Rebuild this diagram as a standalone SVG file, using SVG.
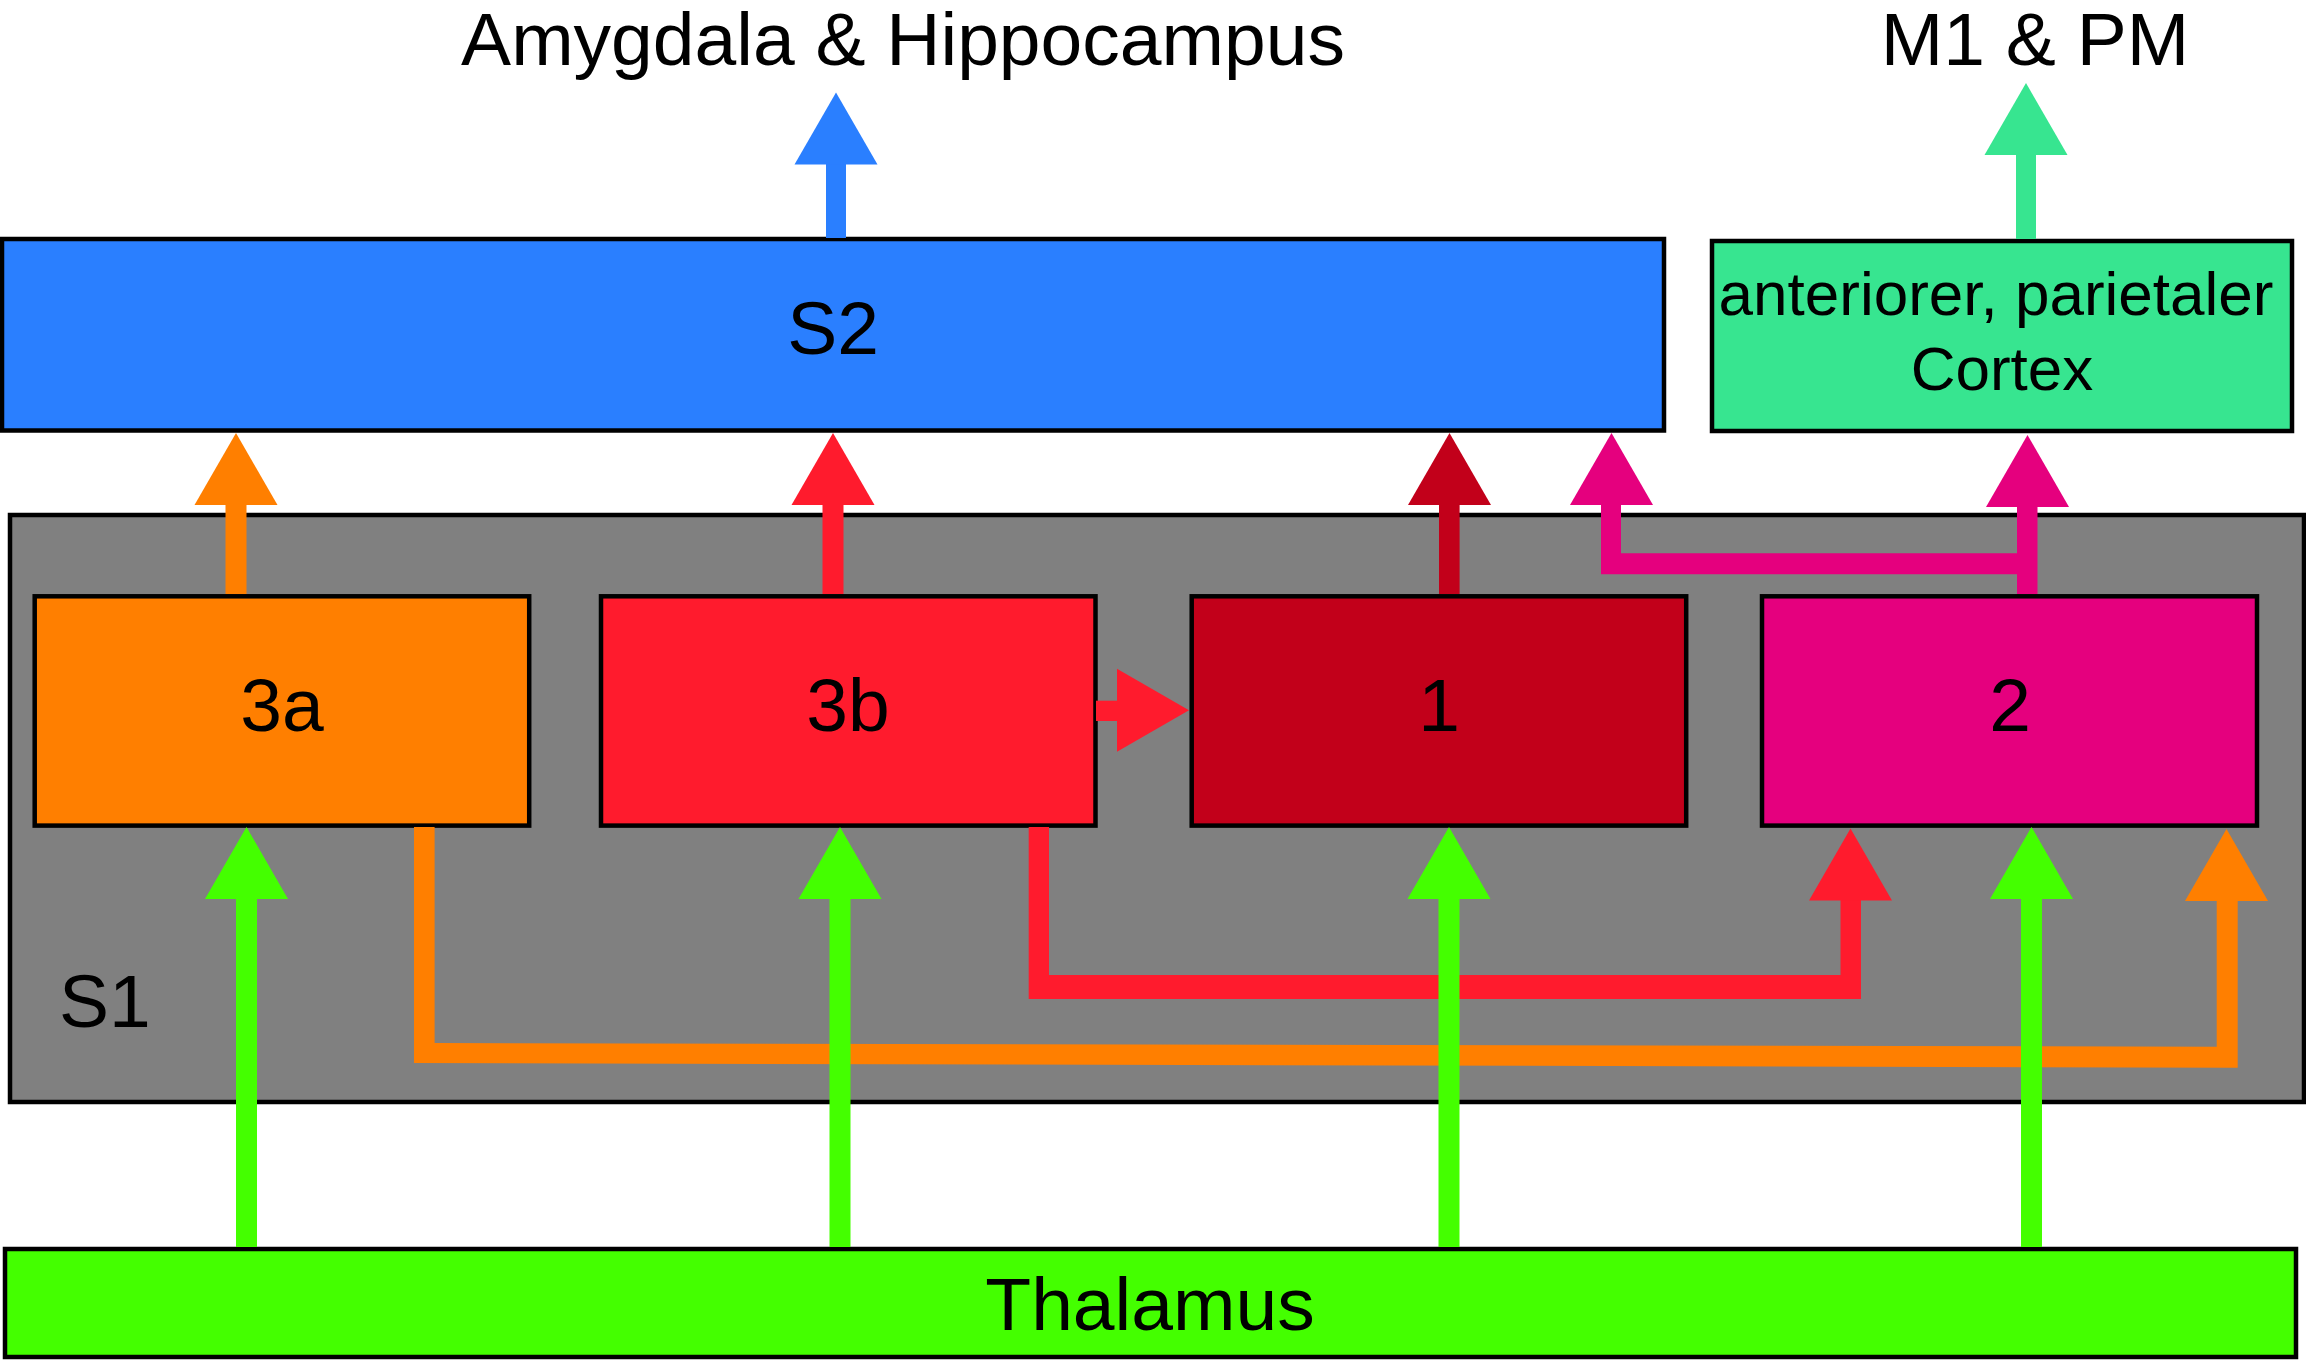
<svg xmlns="http://www.w3.org/2000/svg" xmlns:xlink="http://www.w3.org/1999/xlink" width="2306" height="1362" viewBox="0 0 2306 1362">
<style>
.box{stroke:#000;stroke-width:4.5}
.t{font-family:"Liberation Sans",Arial,Helvetica,sans-serif;font-size:75px;fill:#000}
.ts{font-size:62px}
.blue{fill:#2a7fff}
.mint{fill:#37e590}
.grey{fill:#808080}
.orange{fill:#ff7f00}
.red{fill:#ff1b2d}
.dred{fill:#c2001a}
.mag{fill:#e5007e}
.lime{fill:#44ff00}
</style>
<defs>
<path id="ah" d="M0,0 L41.5,72 L-41.5,72 Z"/>
</defs>
<rect width="2306" height="1362" fill="#fff"/>
<g id="S1">
<rect class="box grey" x="10" y="515" width="2294" height="587"/>
<text class="t" x="59" y="1027">S1</text>
</g>
<g id="labels">
<text id="amygdala" class="t" x="903" y="65" text-anchor="middle">Amygdala &amp; Hippocampus</text>
<text id="m1pm" class="t" x="2035" y="65" text-anchor="middle">M1 &amp; PM</text>
</g>
<g id="S2">
<rect class="box blue" x="2" y="239" width="1662" height="191.5"/>
<text class="t" x="833" y="354" text-anchor="middle">S2</text>
</g>
<g id="APC">
<rect class="box mint" x="1712" y="241" width="580" height="190"/>
<text class="t ts" text-anchor="middle"><tspan x="1996" y="315">anteriorer, parietaler</tspan><tspan x="2002" y="389.6">Cortex</tspan></text>
</g>
<g id="A3a">
<rect class="box orange" x="34.7" y="596.3" width="494.5" height="229.3"/>
<text class="t" x="282" y="731" text-anchor="middle">3a</text>
</g>
<g id="A3b">
<rect class="box red" x="601" y="596.3" width="494.5" height="229.3"/>
<text class="t" x="848" y="731" text-anchor="middle">3b</text>
</g>
<g id="A1">
<rect class="box dred" x="1191.7" y="596.3" width="494.5" height="229.3"/>
<text class="t" x="1439" y="731" text-anchor="middle">1</text>
</g>
<g id="A2">
<rect class="box mag" x="1762" y="596.3" width="495" height="229.3"/>
<text class="t" x="2010" y="731" text-anchor="middle">2</text>
</g>
<g id="Thalamus">
<rect class="box lime" x="5" y="1249" width="2291" height="108"/>
<text class="t" x="1150" y="1330" text-anchor="middle">Thalamus</text>
</g>
<g id="connectors">
<!-- S2 -> Amygdala & Hippocampus -->
<rect class="blue" x="826" y="163" width="20" height="75"/>
<use xlink:href="#ah" class="blue" x="836" y="92.5"/>
<!-- APC -> M1 & PM -->
<rect class="mint" x="2016" y="153" width="20" height="86"/>
<use xlink:href="#ah" class="mint" x="2026" y="83"/>
<!-- 3a -> S2 -->
<rect class="orange" x="225.5" y="503" width="21" height="91"/>
<use xlink:href="#ah" class="orange" x="236" y="433"/>
<!-- 3b -> S2 -->
<rect class="red" x="822.5" y="503" width="21" height="91"/>
<use xlink:href="#ah" class="red" x="833" y="433"/>
<!-- 1 -> S2 -->
<rect class="dred" x="1439" y="503" width="20.6" height="91"/>
<use xlink:href="#ah" class="dred" x="1449.5" y="433"/>
<!-- 2 -> S2 and 2 -> APC -->
<polygon class="mag" points="1601,503 1621,503 1621,553.3 2017,553.3 2017,503 2037.5,503 2037.5,594 2017,594 2017,574.3 1601,574.3"/>
<use xlink:href="#ah" class="mag" x="1611.5" y="433"/>
<use xlink:href="#ah" class="mag" x="2027.5" y="435"/>
<!-- 3b -> 1 -->
<rect class="red" x="1096" y="700.7" width="22" height="20.3"/>
<use xlink:href="#ah" class="red" transform="translate(1189,710.3) rotate(90)"/>
<!-- 3a -> 2 -->
<polygon class="orange" points="414,827 434.6,827 434.6,1043 2216.7,1046.7 2216.7,899 2237.7,899 2237.7,1067.7 414,1063"/>
<use xlink:href="#ah" class="orange" x="2226.5" y="829"/>
<!-- 3b -> 2 -->
<polygon class="red" points="1028.7,827 1049,827 1049,975 1840.5,975 1840.5,897 1861,897 1861,999 1028.7,999"/>
<use xlink:href="#ah" class="red" x="1850.5" y="828.6"/>
<!-- Thalamus -> areas -->
<rect class="lime" x="236" y="897" width="21" height="350"/>
<use xlink:href="#ah" class="lime" x="246.5" y="827"/>
<rect class="lime" x="829.5" y="897" width="21" height="350"/>
<use xlink:href="#ah" class="lime" x="840" y="827"/>
<rect class="lime" x="1438.5" y="897" width="21" height="350"/>
<use xlink:href="#ah" class="lime" x="1449" y="827"/>
<rect class="lime" x="2021" y="897" width="21" height="350"/>
<use xlink:href="#ah" class="lime" x="2031.5" y="827"/>
</g>
</svg>
